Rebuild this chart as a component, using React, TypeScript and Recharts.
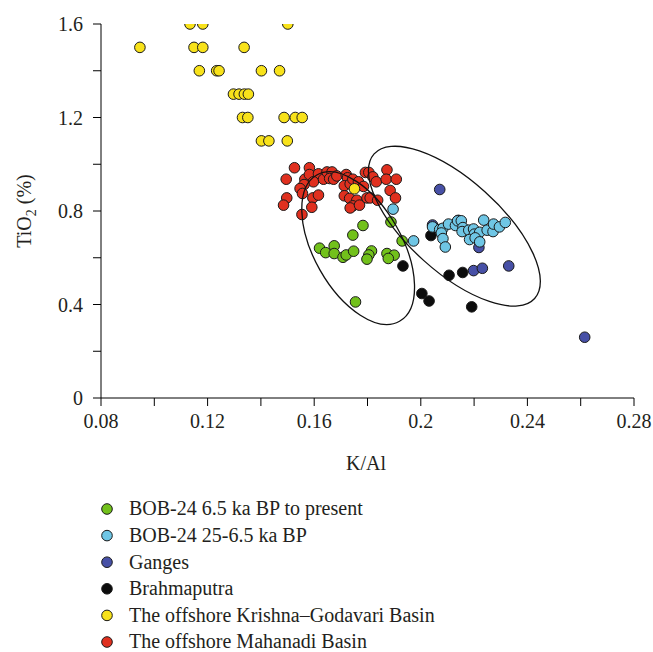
import React from 'react';
import { ScatterChart, Scatter, XAxis, YAxis, ReferenceDot } from 'recharts';

// K/Al, TiO2 pairs
const bob24Recent: [number, number][] = [
  [0.1783, 0.738], [0.1745, 0.697], [0.162, 0.641], [0.1643, 0.622], [0.1675, 0.651],
  [0.1675, 0.618], [0.1708, 0.602], [0.172, 0.612], [0.1748, 0.628], [0.1815, 0.629],
  [0.1805, 0.612], [0.1798, 0.594], [0.1873, 0.618], [0.19, 0.611], [0.1878, 0.597],
  [0.193, 0.672], [0.1888, 0.753], [0.1755, 0.411],
];

const bob24Older: [number, number][] = [
  [0.1896, 0.808], [0.1973, 0.672], [0.2044, 0.732], [0.2071, 0.721], [0.2083, 0.726],
  [0.2077, 0.706], [0.2083, 0.682], [0.2092, 0.646], [0.2104, 0.744], [0.213, 0.738],
  [0.2138, 0.758], [0.2152, 0.758], [0.2158, 0.729], [0.2155, 0.712], [0.218, 0.718],
  [0.2198, 0.723], [0.2201, 0.701], [0.2221, 0.709], [0.2183, 0.678], [0.2204, 0.685],
  [0.2221, 0.668], [0.2236, 0.761], [0.2249, 0.718], [0.2271, 0.712], [0.2273, 0.744],
  [0.2295, 0.732], [0.2317, 0.751],
];

const ganges: [number, number][] = [
  [0.2071, 0.892], [0.2218, 0.644], [0.2198, 0.545], [0.2231, 0.555], [0.233, 0.565],
  [0.2615, 0.26], [0.2044, 0.74], [0.2141, 0.76],
];

const brahmaputra: [number, number][] = [
  [0.1933, 0.565], [0.2106, 0.525], [0.2157, 0.537], [0.2004, 0.447], [0.2031, 0.415],
  [0.2191, 0.39], [0.2038, 0.695],
];

const krishnaGodavari: [number, number][] = [
  [0.1134, 1.6], [0.1182, 1.6], [0.1501, 1.6],
  [0.0946, 1.5], [0.1149, 1.5], [0.1182, 1.5], [0.1337, 1.5],
  [0.1169, 1.4], [0.1234, 1.4], [0.1243, 1.4], [0.1402, 1.4], [0.147, 1.4],
  [0.1297, 1.3], [0.1318, 1.3], [0.1338, 1.3], [0.1353, 1.3],
  [0.1331, 1.2], [0.1351, 1.2], [0.1487, 1.2], [0.1529, 1.2], [0.1555, 1.2],
  [0.1402, 1.1], [0.143, 1.1], [0.1499, 1.1],
  [0.1751, 0.895],
];

const mahanadi: [number, number][] = [
  [0.1526, 0.985], [0.1582, 0.985], [0.1495, 0.936], [0.1565, 0.936], [0.1582, 0.956],
  [0.1616, 0.959], [0.1597, 0.925], [0.1562, 0.913], [0.1547, 0.896], [0.1556, 0.875],
  [0.1497, 0.856], [0.1485, 0.825], [0.1595, 0.856], [0.1616, 0.868], [0.1591, 0.816],
  [0.1554, 0.785], [0.1635, 0.936], [0.1648, 0.967], [0.1667, 0.967], [0.1658, 0.939],
  [0.1673, 0.936], [0.1685, 0.95], [0.172, 0.956], [0.1725, 0.942], [0.1713, 0.908],
  [0.1735, 0.916], [0.1745, 0.936], [0.1766, 0.925], [0.1785, 0.905], [0.1713, 0.865],
  [0.1733, 0.854], [0.176, 0.846], [0.1745, 0.822], [0.1735, 0.813], [0.177, 0.825],
  [0.1798, 0.856], [0.181, 0.856], [0.1838, 0.846], [0.1792, 0.965], [0.1805, 0.965],
  [0.182, 0.946], [0.1833, 0.925], [0.1873, 0.976], [0.187, 0.936], [0.1908, 0.936],
  [0.1885, 0.888], [0.1905, 0.856],
];

// ellipse centres (K/Al, TiO2)
const ellipseCentres: [number, number][] = [[0.1765, 0.641], [0.2126, 0.735]];

const xTicks = [0.08, 0.1, 0.12, 0.14, 0.16, 0.18, 0.2, 0.22, 0.24, 0.26, 0.28];
const xTickLabels = ['0.08', '', '0.12', '', '0.16', '', '0.2', '', '0.24', '', '0.28'];
const yTicks = [0, 0.2, 0.4, 0.6, 0.8, 1.0, 1.2, 1.4, 1.6];
const yTickLabels = ['0', '', '0.4', '', '0.8', '', '1.2', '', '1.6'];

const legendNames = [
  'BOB-24 6.5 ka BP to present',
  'BOB-24 25-6.5 ka BP',
  'Ganges',
  'Brahmaputra',
  'The offshore Krishna\u2013Godavari Basin',
  'The offshore Mahanadi Basin',
];

const COLORS = {
  green: '#72c11b',
  cyan: '#6fc6e5',
  ganges: '#4750a6',
  black: '#0c0c0c',
  yellow: '#f8e21a',
  red: '#e0301f',
};
const legendColors = [COLORS.green, COLORS.cyan, COLORS.ganges, COLORS.black, COLORS.yellow, COLORS.red];

// pixel shape of the two ellipses: rx, ry, rotation
const ellipseShapes = [
  { rx: 84, ry: 44, angle: 60.5 },
  { rx: 108, ry: 46, angle: 42 },
];

const FONT = 'Liberation Serif, Times New Roman, serif';
const textStyle = { fontFamily: FONT };
const toPoints = (arr: [number, number][]) => arr.map(([x, y]) => ({ x, y }));

const dot = (fill: string) => (props: any) => (
  <circle cx={props.cx} cy={props.cy} r={5.3} fill={fill} stroke="#1a1a1a" strokeWidth={1} />
);

export default function App() {
  return (
    <div style={{ position: 'absolute', left: 0, top: 0, width: 653, height: 652, background: '#fff', fontFamily: FONT }}>
      <ScatterChart width={653} height={480} margin={{ top: 24, right: 19, left: 41, bottom: 42 }} style={textStyle}>
        <XAxis
          type="number"
          dataKey="x"
          domain={[0.08, 0.28]}
          ticks={xTicks}
          tickFormatter={(v: number, i: number) => xTickLabels[i]}
          interval={0}
          height={40}
          stroke="#000"
          tickSize={8}
          tickMargin={8}
          tick={{ fill: '#231f20', fontSize: 20, fontFamily: FONT, style: textStyle }}
          allowDataOverflow
        />
        <YAxis
          type="number"
          dataKey="y"
          domain={[0, 1.6]}
          ticks={yTicks}
          tickFormatter={(v: number, i: number) => yTickLabels[i]}
          interval={0}
          width={60}
          stroke="#000"
          tickSize={8}
          tickMargin={10}
          tick={{ fill: '#231f20', fontSize: 20, fontFamily: FONT, style: textStyle }}
          allowDataOverflow
        />
        <Scatter data={toPoints(ganges)} isAnimationActive={false} shape={dot(COLORS.ganges)} />
        <Scatter data={toPoints(brahmaputra)} isAnimationActive={false} shape={dot(COLORS.black)} />
        <Scatter data={toPoints(bob24Older)} isAnimationActive={false} shape={dot(COLORS.cyan)} />
        <Scatter data={toPoints(bob24Recent)} isAnimationActive={false} shape={dot(COLORS.green)} />
        <Scatter data={toPoints(mahanadi)} isAnimationActive={false} shape={dot(COLORS.red)} />
        <Scatter data={toPoints(krishnaGodavari)} isAnimationActive={false} shape={dot(COLORS.yellow)} />
        {ellipseCentres.map(([x, y], i) => (
          <ReferenceDot
            key={`ell-${i}`}
            x={x}
            y={y}
            r={1}
            shape={(p: any) => (
              <ellipse
                cx={p.cx}
                cy={p.cy}
                rx={ellipseShapes[i].rx}
                ry={ellipseShapes[i].ry}
                transform={`rotate(${ellipseShapes[i].angle}, ${p.cx}, ${p.cy})`}
                fill="none"
                stroke="#111"
                strokeWidth={1.3}
              />
            )}
          />
        ))}
        <text x={31} y={211} transform="rotate(-90, 31, 211)" textAnchor="middle" style={textStyle} fontSize={20} fill="#231f20">
          TiO<tspan dy={5} fontSize={14}>2</tspan><tspan dy={-5}> (%)</tspan>
        </text>
        <text x={366} y={470} textAnchor="middle" style={textStyle} fontSize={20} fill="#231f20">
          K/Al
        </text>
      </ScatterChart>
      <svg width={653} height={182} style={{ position: 'absolute', left: 0, top: 470 }}>
        {legendNames.map((name, i) => (
          <g key={name}>
            <circle cx={107} cy={39 + i * 26.6} r={5.3} fill={legendColors[i]} stroke="#1a1a1a" strokeWidth={1} />
            <text x={129} y={45.3 + i * 26.6} style={textStyle} fontSize={20} fill="#231f20">
              {name}
            </text>
          </g>
        ))}
      </svg>
    </div>
  );
}
